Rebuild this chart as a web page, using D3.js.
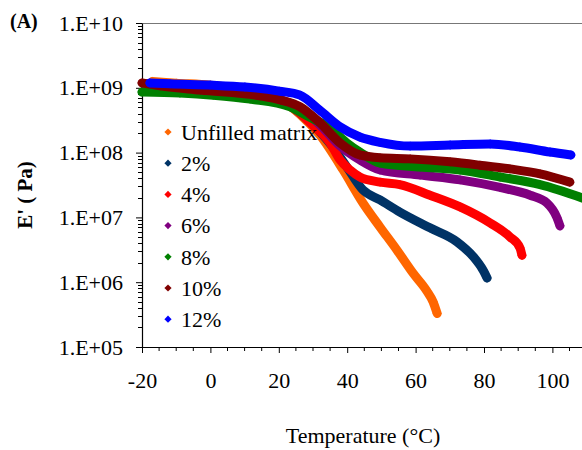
<!DOCTYPE html>
<html lang="en">
<head>
    <meta charset="UTF-8">
    <title>Storage modulus vs temperature (D3.js)</title>
    <script src="https://d3js.org/d3.v7.min.js"></script>
    <style>
        body { margin: 0; background: #fff; }
        text { font-family: "Liberation Serif", "Times New Roman", serif; fill: #000; }
    </style>
</head>
<body>
    <svg width="582" height="450" id="svgContainer"></svg>

    <script>
        // Series names and colours (legend order)
        const seriesNames = ["Unfilled matrix", "2%", "4%", "6%", "8%", "10%", "12%"];
        const seriesColors = ["#FF6600", "#003366", "#FF0000", "#800080", "#008000", "#800000", "#0000FF"];

        // Temperature (°C) and E' (Pa)
        const unfilledT = [-17, -10, 0, 10, 20, 26.2, 32, 38.8, 44.6, 49.6, 54.6, 59.2, 63.3, 65.1, 66.3];
        const unfilledE = [1.25e9, 1.18e9, 1.1e9, 9.3e8, 6.8e8, 3.9e8, 1.87e8, 5.4e7, 1.67e7, 7.1e6, 3.1e6, 1.39e6, 7.3e5, 5.0e5, 3.3e5];

        const p2T = [-19, -10, 0, 10, 20, 26.2, 32, 35.8, 39.9, 44.6, 49.6, 55.4, 64.2, 72.1, 76.8, 79.7, 80.9];
        const p2E = [1.1e9, 1.08e9, 1.05e9, 9.5e8, 6.8e8, 4.1e8, 2.1e8, 1.22e8, 6.0e7, 2.65e7, 1.86e7, 1.21e7, 6.9e6, 4.2e6, 2.5e6, 1.54e6, 1.16e6];

        const p4T = [-19, -10, 0, 10, 20, 26.2, 29.1, 35, 37.9, 40.8, 43.7, 49.6, 55.4, 64.2, 73, 81.8, 87.6, 90.5, 91.1];
        const p4E = [1.15e9, 1.1e9, 1.05e9, 9.5e8, 6.8e8, 4.1e8, 2.9e8, 1.41e8, 7.7e7, 5.4e7, 4.2e7, 3.5e7, 3.2e7, 2.2e7, 1.45e7, 8.2e6, 5.0e6, 3.4e6, 2.6e6];

        const p6T = [-19, 0, 20, 26.2, 32, 37.9, 43.7, 49.6, 61.3, 73, 84.7, 93.5, 98.4, 101.3, 102.2];
        const p6E = [1.0e9, 9.5e8, 6.6e8, 4.9e8, 2.7e8, 1.27e8, 7.7e7, 5.4e7, 4.5e7, 3.8e7, 2.9e7, 2.2e7, 1.67e7, 1.0e7, 7.4e6];

        const p8T = [-20, -8.9, 0.8, 11.6, 23.3, 29.1, 35, 39.9, 43.7, 49.6, 61.3, 73, 84.7, 96.4, 108.7];
        const p8E = [8.6e8, 8.3e8, 7.7e8, 6.7e8, 5.1e8, 3.5e8, 2.4e8, 1.41e8, 1.02e8, 6.9e7, 6.0e7, 5.4e7, 4.2e7, 3.2e7, 2.0e7];

        const p10T = [-20, -14.7, -3, 14.5, 20.4, 26.2, 32, 37.9, 43.7, 49.6, 58.4, 70.1, 78.8, 87.6, 96.4, 105.1];
        const p10E = [1.19e9, 1.07e9, 9.2e8, 7.5e8, 6.5e8, 5.1e8, 2.9e8, 1.41e8, 9.2e7, 8.3e7, 8.0e7, 7.2e7, 6.4e7, 5.6e7, 4.7e7, 3.5e7];

        const p12T = [-17.7, -11.8, -0.1, 10.1, 20.1, 26.2, 32, 37.9, 43.7, 49.6, 58.4, 70.1, 81.8, 90.5, 99.3, 105.4];
        const p12E = [1.19e9, 1.15e9, 1.1e9, 1.03e9, 8.9e8, 7.7e8, 4.5e8, 2.5e8, 1.74e8, 1.44e8, 1.26e8, 1.31e8, 1.36e8, 1.22e8, 1.02e8, 9.2e7];

        const allT = [unfilledT, p2T, p4T, p6T, p8T, p10T, p12T];
        const allE = [unfilledE, p2E, p4E, p6E, p8E, p10E, p12E];

        // Axis ticks
        const xTicks = [-20, 0, 20, 40, 60, 80, 100];
        const xTickLabels = ["-20", "0", "20", "40", "60", "80", "100"];
        const yTicks = [1e5, 1e6, 1e7, 1e8, 1e9, 1e10];
        const yTickLabels = ["1.E+05", "1.E+06", "1.E+07", "1.E+08", "1.E+09", "1.E+10"];

        const svg = d3.select("#svgContainer");
        const plotLeft = 142, plotTop = 23, plotBottom = 347;

        const x = d3.scaleLinear().domain([-20, 110]).range([plotLeft, plotLeft + 130 * 3.42]);
        const y = d3.scaleLog().domain([1e5, 1e10]).range([plotBottom, plotTop]);

        // top border of plot area
        svg.append("line")
            .attr("x1", plotLeft).attr("x2", 582)
            .attr("y1", plotTop + 0.5).attr("y2", plotTop + 0.5)
            .attr("stroke", "#777").attr("stroke-width", 1.2);

        // minor ticks
        const xMinor = d3.range(-20, 111, 5).filter(v => v % 20 !== 0);
        svg.append("g").selectAll("line").data(xMinor).join("line")
            .attr("x1", d => x(d)).attr("x2", d => x(d))
            .attr("y1", plotBottom).attr("y2", plotBottom + 4)
            .attr("stroke", "#000");
        const yMinor = [];
        for (let e = 5; e < 10; e++) for (let m = 2; m <= 9; m++) yMinor.push(m * Math.pow(10, e));
        svg.append("g").selectAll("line").data(yMinor).join("line")
            .attr("x1", plotLeft - 4).attr("x2", plotLeft)
            .attr("y1", d => Math.round(y(d)) + 0.5).attr("y2", d => Math.round(y(d)) + 0.5)
            .attr("stroke", "#000");

        // axes
        const xAxis = svg.append("g")
            .attr("transform", `translate(0,${plotBottom})`)
            .call(d3.axisBottom(x).tickValues(xTicks).tickFormat((d, i) => xTickLabels[i])
                .tickSize(6).tickPadding(19).tickSizeOuter(0));
        const yAxis = svg.append("g")
            .attr("transform", `translate(${plotLeft},0)`)
            .call(d3.axisLeft(y).tickValues(yTicks).tickFormat((d, i) => yTickLabels[i])
                .tickSize(6).tickPadding(13).tickSizeOuter(0));
        [xAxis, yAxis].forEach(g => {
            g.select(".domain").attr("stroke", "#000").attr("stroke-width", 1.2);
            g.selectAll(".tick line").attr("stroke", "#000");
            g.selectAll(".tick text").attr("font-family", "Liberation Serif").attr("font-size", 22).attr("fill", "#000");
        });

        // data: thick band + diamond markers
        const line = d3.line()
            .x(d => x(d[0]))
            .y(d => y(d[1]))
            .curve(d3.curveMonotoneX);
        const diamond = d3.symbol().type(d3.symbolSquare).size(44);

        allT.forEach((temps, i) => {
            const pts = temps.map((t, k) => [t, allE[i][k]]);
            const g = svg.append("g");
            g.append("path")
                .attr("d", line(pts))
                .attr("fill", "none")
                .attr("stroke", seriesColors[i])
                .attr("stroke-width", 9)
                .attr("stroke-linejoin", "round")
                .attr("stroke-linecap", "round");
            g.selectAll("path.pt").data(pts).join("path")
                .attr("class", "pt")
                .attr("d", diamond)
                .attr("transform", d => `translate(${x(d[0])},${y(d[1])}) rotate(45)`)
                .attr("fill", seriesColors[i]);
        });

        // legend
        const legend = svg.append("g");
        seriesNames.forEach((name, i) => {
            const ly = 132 + i * 31.2;
            legend.append("path")
                .attr("d", d3.symbol().type(d3.symbolSquare).size(26)())
                .attr("transform", `translate(168,${ly}) rotate(45)`)
                .attr("fill", seriesColors[i]);
            legend.append("text")
                .attr("x", 181).attr("y", ly).attr("dy", "0.35em")
                .attr("font-size", 22)
                .text(name);
        });

        // titles
        svg.append("text")
            .attr("x", 363).attr("y", 443)
            .attr("text-anchor", "middle")
            .attr("font-size", 22)
            .text("Temperature (°C)");
        svg.append("text")
            .attr("transform", "translate(32,195) rotate(-90)")
            .attr("text-anchor", "middle")
            .attr("font-size", 21)
            .attr("font-weight", "bold")
            .text("E' ( Pa)");
        svg.append("text")
            .attr("x", 10).attr("y", 28)
            .attr("font-size", 20)
            .attr("font-weight", "bold")
            .text("(A)");
    </script>
</body>
</html>
